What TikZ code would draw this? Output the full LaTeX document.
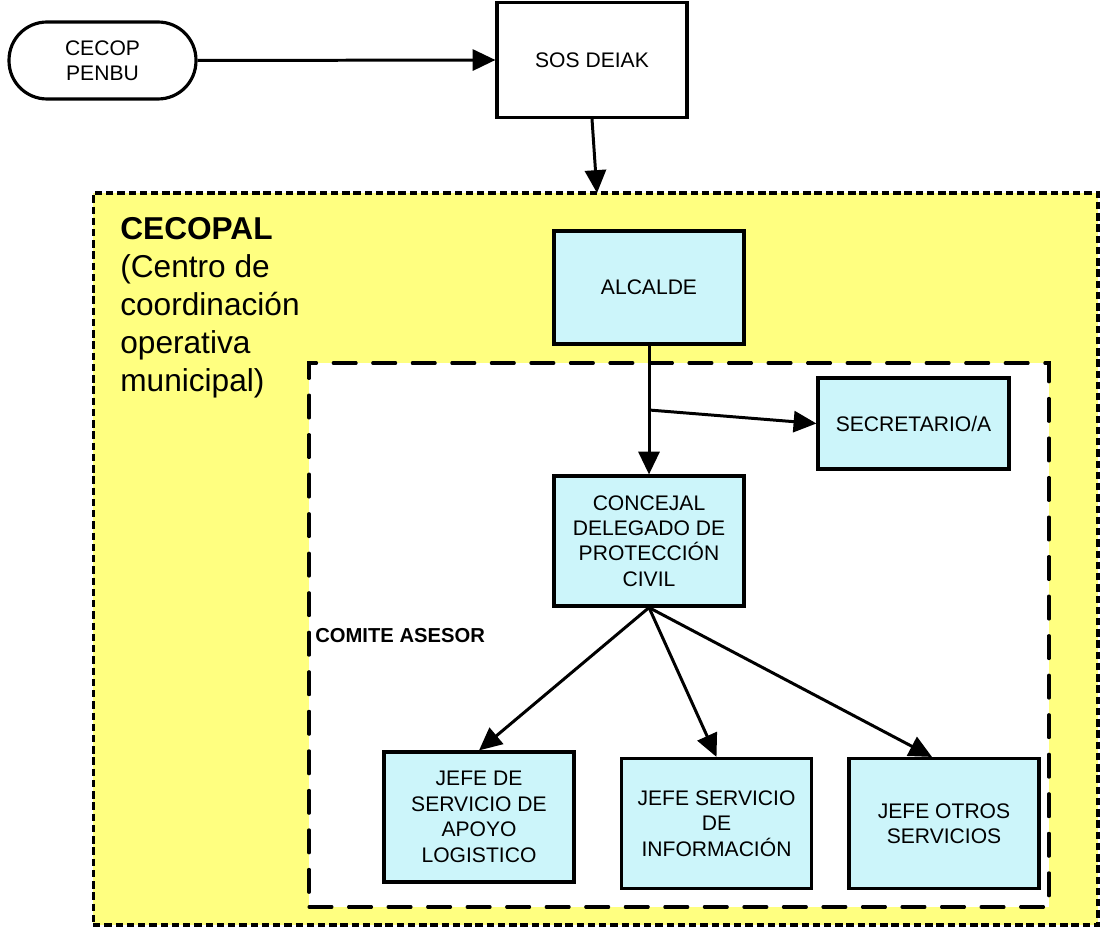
\documentclass[tikz,border=0pt]{standalone}
\usepackage{fontspec}
\setmainfont{Liberation Sans}
\usetikzlibrary{arrows.meta}
\definecolor{cecopalyellow}{RGB}{255,255,128}
\definecolor{cargocyan}{RGB}{204,245,250}

\begin{document}
\begin{tikzpicture}[x=0.02cm,y=-0.02cm,
  boxtext/.style={font=\fontsize{12}{14.5}\selectfont,align=center},
  cargo/.style={boxtext,draw,line width=1.8pt,fill=cargocyan,minimum width=3.8cm,minimum height=2.6cm,inner sep=2pt},
  link/.style={line width=1.7pt,-{Triangle[length=13pt,width=12pt]}}]
\useasboundingbox (0,0) rectangle (1101,928);

% outside the centre
\node[boxtext,draw,line width=1.8pt,rounded corners=0.76cm,minimum width=3.74cm,minimum height=1.54cm] (cecop) at (102.5,60.5) {CECOP\\PENBU};
\node[boxtext,draw,line width=1.8pt,minimum width=3.8cm,minimum height=2.3cm] (sos) at (592,60) {SOS DEIAK};
\coordinate (entry) at (597,193);

% regions
\node[draw,line width=1.8pt,dash pattern=on 4.2pt off 2.2pt,fill=cecopalyellow,minimum width=20.1cm,minimum height=14.64cm,inner sep=0pt] (cecopal) at (595.5,559) {};
\node[draw,line width=1.8pt,line cap=round,dash pattern=on 13pt off 9.5pt,fill=white,minimum width=14.8cm,minimum height=10.88cm,inner sep=0pt] (comite) at (679,635) {};
\node[anchor=north west,inner sep=0pt,align=left,font=\fontsize{18}{21.7}\selectfont] (cecopaltext) at (120,217) {\textbf{CECOPAL}\\(Centro de\\coordinación\\operativa\\municipal)};
\node[anchor=base west,inner sep=0pt,font=\fontsize{11.5}{14}\selectfont\bfseries] (comitetext) at (315,642) {COMITE ASESOR};

% cargos
\node[cargo,minimum height=2.26cm] (alcalde) at (649,287.5) {ALCALDE};
\node[cargo,minimum width=3.82cm,minimum height=1.82cm] (secretario) at (913.5,423.5) {SECRETARIO/A};
\node[cargo] (concejal) at (649,541) {CONCEJAL\\DELEGADO DE\\PROTECCIÓN\\CIVIL};
\node[cargo] (apoyo) at (479,817) {JEFE DE\\SERVICIO DE\\APOYO\\LOGISTICO};
\node[cargo] (info) at (716.5,823.5) {JEFE SERVICIO\\DE\\INFORMACIÓN};
\node[cargo] (otros) at (944,823.5) {JEFE OTROS\\SERVICIOS};
\coordinate (split) at (649,410);

% connectors
\draw[link] (cecop.east) -- (sos.west);
\draw[link] (sos.south) -- (entry);
\draw[link] (alcalde.south) -- (concejal.north);
\draw[link] (split) -- (secretario.west);
\draw[link] (concejal.south) -- (apoyo.north);
\draw[link] (concejal.south) -- (info.north);
\draw[link] (concejal.south) -- ([xshift=-0.24cm]otros.north);

\end{tikzpicture}
\end{document}
